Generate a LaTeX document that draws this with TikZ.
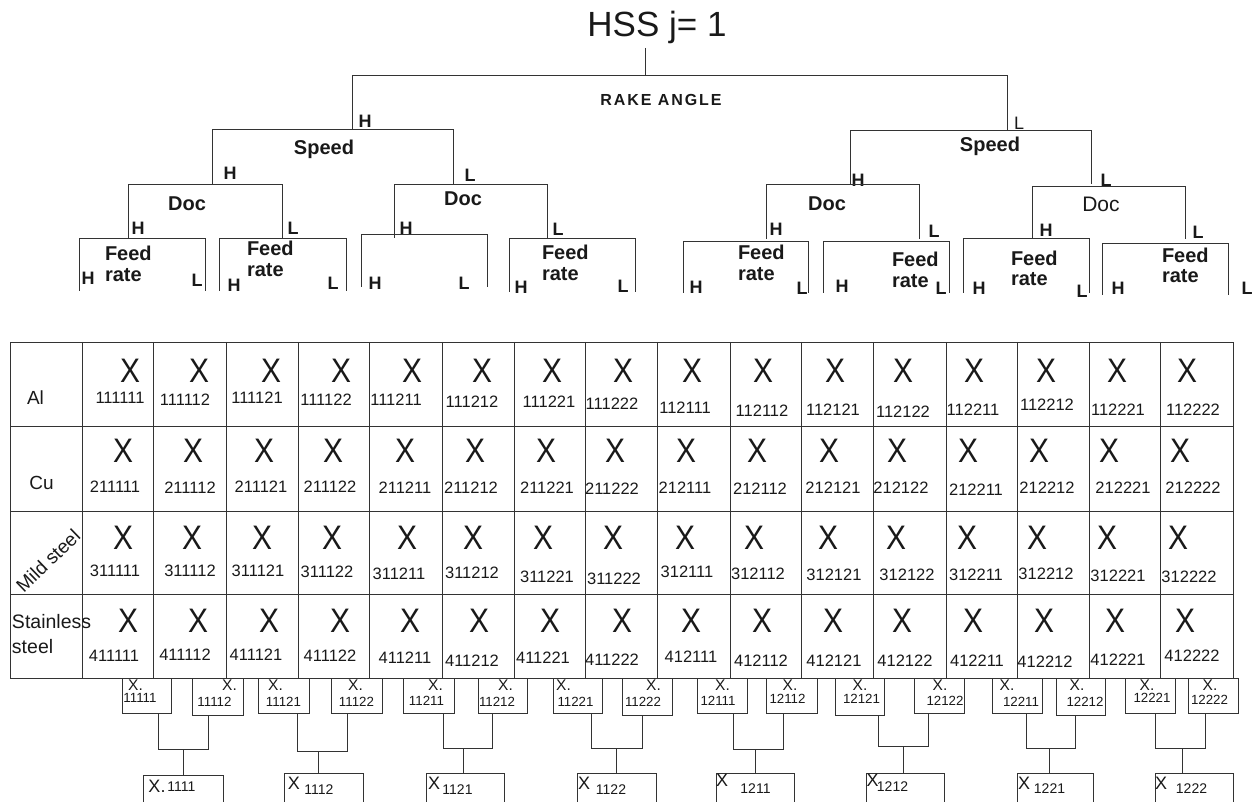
\documentclass[tikz,border=0pt]{standalone}
\usepackage{fontspec}
\setmainfont{Liberation Sans}
\newcommand\fsz[1]{\fontsize{#1}{#1}\selectfont}
\definecolor{linec}{gray}{0.2}
\definecolor{txt}{gray}{0.1}
\begin{document}
\begin{tikzpicture}[x=1pt,y=-1pt,
  every node/.style={inner sep=0pt,outer sep=0pt,text=txt},
  ln/.style={draw=linec,line width=0.85pt},
  boxst/.style={draw=linec,line width=0.85pt,inner sep=0pt},
  hl/.style={font=\bfseries\fsz{18}},
  hln/.style={font=\fsz{18}},
  lbl/.style={font=\bfseries\fsz{20}},
  fr/.style={font=\bfseries\fsz{20},anchor=west},
  bigx/.style={font=\fsz{34},xscale=0.88},
  num/.style={font=\fsz{16.5}},
  rowlab/.style={font=\fsz{19}}]
\useasboundingbox (0,0) rectangle (1254,802);

% ---------------- tree ----------------
\node[font=\fsz{35},anchor=base] (title) at (657,37) {HSS j= 1};
\coordinate (t0) at (645,48);
\coordinate (t1) at (645,75);
\draw[ln] (t0) -- (t1);
\draw[ln] (352,129) -- (352,75) -- (1007,75) -- (1007,130);
\node[font={\bfseries\fsz{16}\addfontfeature{LetterSpace=12}}] (rake) at (661,100) {RAKE ANGLE};

% left half
\node[hl] (hA) at (365,121) {H};
\draw[ln] (212,184) -- (212,129) -- (453,129) -- (453,184);
\node[lbl] (sp1) at (324,149) {Speed};
\node[hl] (hB) at (230,173) {H};
\node[hl] (lB) at (470,175) {L};

\draw[ln] (128,238) -- (128,184) -- (282,184) -- (282,238);
\node[lbl] (doc1) at (187,204) {Doc};
\node[hl] (hC1) at (138,228) {H};
\node[hl] (lC1) at (293,228) {L};

\draw[ln] (79,291) -- (79,238) -- (205,238) -- (205,291);
\node[fr] (f1) at (105,253) {Feed};
\node[fr] (r1) at (105,275) {rate};
\node[hl] (h1) at (88,278) {H};
\node[hl] (l1x) at (197,280) {L};

\draw[ln] (219,291) -- (219,238) -- (346,238) -- (346,291);
\node[fr] (f2) at (247,248) {Feed};
\node[fr] (r2) at (247,270) {rate};
\node[hl] (h2) at (234,285) {H};
\node[hl] (l2x) at (333,283) {L};

\draw[ln] (394,238) -- (394,184) -- (547,184) -- (547,238);
\node[lbl] (doc2) at (463,199) {Doc};
\node[hl] (hC2) at (406,228) {H};
\node[hl] (lC2) at (558,229) {L};

\draw[ln] (361,287) -- (361,234) -- (487,234) -- (487,287);
\node[hl] (h3) at (375,283) {H};
\node[hl] (l3x) at (464,283) {L};

\draw[ln] (509,292) -- (509,238) -- (635,238) -- (635,292);
\node[fr] (f4) at (542,252) {Feed};
\node[fr] (r4) at (542,274) {rate};
\node[hl] (h4) at (521,287) {H};
\node[hl] (l4x) at (623,286) {L};

% right half
\node[hln] (lA) at (1019,123) {L};
\draw[ln] (850,184) -- (850,130) -- (1091,130) -- (1091,184);
\node[lbl] (sp2) at (990,146) {Speed};
\node[hl] (hD) at (858,180) {H};
\node[hl] (lD) at (1106,180) {L};

\draw[ln] (766,239) -- (766,184) -- (919,184) -- (919,239);
\node[lbl] (doc3) at (827,204) {Doc};
\node[hl] (hC3) at (776,229) {H};
\node[hl] (lC3) at (934,231) {L};

\draw[ln] (683,293) -- (683,241) -- (808,241) -- (808,293);
\node[fr] (f5) at (738,252) {Feed};
\node[fr] (r5) at (738,274) {rate};
\node[hl] (h5) at (696,287) {H};
\node[hl] (l5x) at (802,288) {L};

\draw[ln] (823,293) -- (823,241) -- (949,241) -- (949,293);
\node[fr] (f6) at (892,259) {Feed};
\node[fr] (r6) at (892,281) {rate};
\node[hl] (h6) at (842,286) {H};
\node[hl] (l6x) at (941,288) {L};

\draw[ln] (1032,239) -- (1032,186) -- (1185,186) -- (1185,239);
\node[font=\fsz{21}] (doc4) at (1101,204) {Doc};
\node[hl] (hC4) at (1046,230) {H};
\node[hl] (lC4) at (1198,232) {L};

\draw[ln] (963,293) -- (963,238) -- (1089,238) -- (1089,293);
\node[fr] (f7) at (1011,258) {Feed};
\node[fr] (r7) at (1011,279) {rate};
\node[hl] (h7) at (979,288) {H};
\node[hl] (l7x) at (1082,291) {L};

\draw[ln] (1102,295) -- (1102,243) -- (1228,243) -- (1228,295);
\node[fr] (f8) at (1162,255) {Feed};
\node[fr] (r8) at (1162,276) {rate};
\node[hl] (h8) at (1118,288) {H};
\node[hl] (l8x) at (1247,288) {L};

% ---------------- table ----------------
\draw[ln] (10,342) rectangle (1233,678);
\foreach \x in {82,153,226,298,369,442,514,585,657,730,801,873,946,1017,1089,1160}
  \draw[ln] (\x,342) -- (\x,678);
\foreach \y in {426,511,594}
  \draw[ln] (10,\y) -- (1233,\y);

\node[rowlab] (ral) at (35.5,398) {Al};
\node[rowlab] (rcu) at (41.5,483) {Cu};
\node[rowlab,rotate=44] (rms) at (48,561) {Mild steel};
\node[rowlab,anchor=west,font=\fsz{19.5}] (rss1) at (12,622) {Stainless};
\node[rowlab,anchor=west,font=\fsz{19.5}] (rss2) at (12,647) {steel};

\foreach \xx/\nx/\ny/\lab [count=\i] in {
130/120/398/111111,199/185/400/111112,271/257/398/111121,341/326/400/111122,
412/396/400/111211,482/472/402/111212,552/549/402/111221,623/612/404/111222,
692/685/408/112111,763/762/411/112112,835/833/410/112121,903/903/412/112122,
974/973/410/112211,1046/1047/405/112212,1117/1118/410/112221,1187/1193/410/112222}
{\node[bigx] (xa\i) at (\xx,371) {X}; \node[num] (na\i) at (\nx,\ny) {\lab};}

\foreach \xx/\nx/\ny/\lab [count=\i] in {
123/115/487/211111,193/190/488/211112,264/261/487/211121,333/330/487/211122,
405/405/488/211211,475/471/488/211212,546/547/488/211221,615/612/489/211222,
686/685/488/212111,757/760/489/212112,829/833/488/212121,897/901/488/212122,
968/976/490/212211,1039/1047/488/212212,1109/1123/488/212221,1180/1193/488/212222}
{\node[bigx] (xb\i) at (\xx,451) {X}; \node[num] (nb\i) at (\nx,\ny) {\lab};}

\foreach \xx/\nx/\ny/\lab [count=\i] in {
123/115/571/311111,192/190/571/311112,262/258/571/311121,332/327/572/311122,
407/399/574/311211,473/472/573/311212,543/547/577/311221,613/614/579/311222,
685/687/572/312111,754/758/574/312112,828/834/575/312121,896/907/575/312122,
967/976/575/312211,1037/1046/574/312212,1107/1118/576/312221,1178/1189/577/312222}
{\node[bigx] (xc\i) at (\xx,538) {X}; \node[num] (nc\i) at (\nx,\ny) {\lab};}

\foreach \xx/\nx/\ny/\lab [count=\i] in {
128/114/656/411111,198/185/655/411112,269/256/655/411121,340/330/656/411122,
410/405/658/411211,479/472/661/411212,550/543/658/411221,622/612/660/411222,
691/691/657/412111,762/761/661/412112,833/834/661/412121,902/905/661/412122,
973/977/661/412211,1044/1045/662/412212,1115/1118/660/412221,1185/1192/656/412222}
{\node[bigx] (xd\i) at (\xx,621) {X}; \node[num] (nd\i) at (\nx,\ny) {\lab};}

% ---------------- small boxes ----------------
\foreach \l/\r/\b/\xx/\nx/\ny/\lab [count=\i] in {
122/171/713/135.5/140/698/11111,
192/243/715/229.5/214.5/702/11112,
258/309/713/275.5/283.5/702/11121,
331/382/713/355.5/356.5/702/11122,
403/454/713/435.5/426.5/701/11211,
478/527/713/505.5/497/702/11212,
553/602/713/563.5/575.5/702/11221,
622/672/715/653.5/643/702/11222,
697/747/713/722.5/718/701/12111,
766/817/713/790/787.5/699/12112,
835/884/715/860/861.5/699/12121,
914/964/713/940/945/701/12122,
992/1042/713/1007/1021/702/12211,
1056/1105/715/1077/1085/702/12212,
1125/1175/713/1147/1152/698/12221,
1188/1238/713/1210/1209.5/700/12222}
{\node[boxst,anchor=north west,minimum width={(\r-\l)*1pt},minimum height={(\b-678)*1pt}] (s\i) at (\l,678) {};
 \node[font=\fsz{15.5}] (sx\i) at (\xx,685.5) {X.};
 \node[font=\fsz{13.3}] (sn\i) at (\nx,\ny) {\lab};}

% ---------------- pairs and lower boxes ----------------
\foreach \a/\b/\hy/\cx/\ll/\rr/\tp/\xx/\xy/\nx/\ny/\xt/\lab [count=\k] in {
158/208/749/183/143/223/775/157/786/181.5/787/X./1111,
297/347/751/318/284/363/773/294/783/319/790/X/1112,
443/492/748/463/426/504/773/434/783/457.5/790/X/1121,
591/642/748/616/577/656/773/584/783/611/790/X/1122,
733/783/749/755/716/794/773/722/780/755.5/789/X/1211,
878/928/746/903/866/944/773/872.5/780/892.5/787/X/1212,
1026/1075/748/1049/1017/1093/773/1024/783/1049.5/789/X/1221,
1155/1205/748/1182/1155/1233/773/1161/783/1191.5/789/X/1222}
{\pgfmathtruncatemacro\sa{2*\k-1}\pgfmathtruncatemacro\sb{2*\k}
 \node[boxst,anchor=north west,minimum width={(\rr-\ll)*1pt},minimum height=45pt] (lo\k) at (\ll,\tp) {};
 \coordinate (pa\k) at (\a,\hy);
 \coordinate (pb\k) at (\b,\hy);
 \coordinate (pc\k) at (\cx,\hy);
 \draw[ln] (pa\k |- s\sa.south) -- (pa\k) -- (pb\k) -- (pb\k |- s\sb.south);
 \draw[ln] (pc\k) -- (pc\k |- lo\k.north);
 \node[font=\fsz{18}] (lx\k) at (\xx,\xy) {\xt};
 \node[font=\fsz{14}] (ln\k) at (\nx,\ny) {\lab};}
\end{tikzpicture}
\end{document}
